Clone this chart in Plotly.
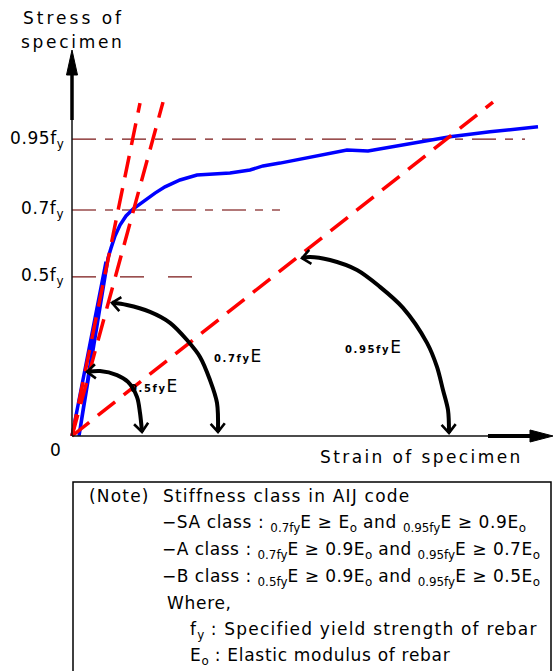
import math
import plotly.graph_objects as go

# ---------------- data (strain: arbitrary units, stress: units of fy) ----------------
curve_strain = [0, 0.32, 0.34, 0.07, 0.36, 0.39, 0.43, 0.48, 0.54, 0.61, 0.73, 0.83, 0.93,
                1.08, 1.25, 1.58, 1.78, 1.91, 2.08, 2.28, 2.53, 2.75, 2.96, 3.31, 3.78, 4.18, 4.66]
curve_stress = [0, 0.525, 0.557, 0, 0.569, 0.601, 0.640, 0.675, 0.704, 0.726, 0.755, 0.777, 0.797,
                0.819, 0.835, 0.841, 0.851, 0.864, 0.873, 0.886, 0.902, 0.915, 0.912, 0.931, 0.957, 0.973, 0.989]

# secant stiffness lines (0.5fyE, 0.7fyE, 0.95fyE), from origin to end point
secant_end_strain = [0.68, 0.91, 4.21]
secant_end_stress = [1.065, 1.068, 1.068]

# reference stress levels
level_stress = [0.509, 0.723, 0.95]
level_end_strain = [1.38, 2.08, 4.53]
level_labels = ["0.5f<sub>y</sub>", "0.7f<sub>y</sub>", "0.95f<sub>y</sub>"]
level_colors = ["#7a1616", "#b27878", "#7a1616"]
level_widths = [1.2, 2, 1.2]
level_dash = ["24px,24px", "24px,9px,8px,9px", "24px,9px,8px,9px"]

# angle arcs (strain, stress)
arc1_strain = [0.15, 0.28, 0.45, 0.56, 0.65, 0.68, 0.70]
arc1_stress = [0.205, 0.208, 0.195, 0.173, 0.125, 0.074, 0.013]
arc2_strain = [0.40, 0.55, 0.78, 0.98, 1.15, 1.28, 1.38, 1.45, 1.46]
arc2_stress = [0.426, 0.419, 0.397, 0.362, 0.307, 0.253, 0.179, 0.106, 0.013]
arc3_strain = [2.30, 2.38, 2.58, 2.85, 3.08, 3.31, 3.55, 3.65, 3.71, 3.76, 3.77]
arc3_stress = [0.569, 0.573, 0.563, 0.531, 0.477, 0.410, 0.298, 0.221, 0.147, 0.083, 0.010]
arc_labels = ["0.5fy", "0.7fy", "0.95fy"]

# ---------------- layout helpers (pixel -> axis units) ----------------
W, H = 554, 671
OX, OY = 72, 436          # origin in pixels
SX, SY = 100.0, 312.6     # pixels per unit
FONT = "DejaVu Sans"


def dx(px):
    return (px - OX) / SX


def dy(py):
    return (OY - py) / SY


def pxx(x):
    return OX + x * SX


def pxy(y):
    return OY - y * SY


def sub(t):
    return '<sub><span style="letter-spacing:0px">' + t + '</span></sub>'


fig = go.Figure()

# reference levels
for s, xe, c, w, d in zip(level_stress, level_end_strain, level_colors, level_widths, level_dash):
    fig.add_trace(go.Scatter(x=[0, xe], y=[s, s], mode="lines",
                             line=dict(color=c, width=w, dash=d), hoverinfo="skip"))

# blue stress-strain curve
fig.add_trace(go.Scatter(x=curve_strain, y=curve_stress, mode="lines",
                         line=dict(color="#0000ff", width=3.5), hoverinfo="skip"))

# red secant lines
for xe, ye in zip(secant_end_strain, secant_end_stress):
    fig.add_trace(go.Scatter(x=[0, xe], y=[0, ye], mode="lines",
                             line=dict(color="#ff0000", width=3.5, dash="22px,11px"),
                             hoverinfo="skip"))

# arcs
arcs = [(arc1_strain, arc1_stress), (arc2_strain, arc2_stress), (arc3_strain, arc3_stress)]
for ax_, ay_ in arcs:
    fig.add_trace(go.Scatter(x=ax_, y=ay_, mode="lines",
                             line=dict(color="black", width=4, shape="spline", smoothing=0.9),
                             hoverinfo="skip"))

# chevron arrowheads at both ends of each arc
ARM, ANG = 11.0, math.radians(40)
for ax_, ay_ in arcs:
    for i0, i1 in [(0, 1), (-1, -2)]:
        tx, ty = pxx(ax_[i0]), pxy(ay_[i0])
        sx_, sy_ = pxx(ax_[i1]), pxy(ay_[i1])
        L = math.hypot(sx_ - tx, sy_ - ty)
        ux, uy = (sx_ - tx) / L, (sy_ - ty) / L
        wings = []
        for a in (ANG, -ANG):
            wx = ux * math.cos(a) - uy * math.sin(a)
            wy = ux * math.sin(a) + uy * math.cos(a)
            wings.append((tx + wx * ARM, ty + wy * ARM))
        xs = [dx(wings[0][0]), dx(tx), dx(wings[1][0])]
        ys = [dy(wings[0][1]), dy(ty), dy(wings[1][1])]
        fig.add_trace(go.Scatter(x=xs, y=ys, mode="lines",
                                 line=dict(color="black", width=2.6), hoverinfo="skip"))

annotations = []

# arc labels
arc_label_pos = [(128, 386), (212, 356), (343, 347)]
for lab, (px_, py_) in zip(arc_labels, arc_label_pos):
    annotations.append(dict(
        x=dx(px_), y=dy(py_), xref="x", yref="y", xanchor="left", yanchor="middle",
        showarrow=False,
        text=('<b><span style="font-size:10px;letter-spacing:1.6px">' + lab +
              '</span></b><span style="font-size:17px">E</span>'),
        font=dict(family=FONT, color="black")))

# level tick labels
for s, lab in zip(level_stress, level_labels):
    annotations.append(dict(x=dx(66), y=s, xref="x", yref="y", xanchor="right",
                            yanchor="middle", showarrow=False,
                            text='<span style="letter-spacing:0.6px">' + lab + '</span>',
                            font=dict(family=FONT, size=17, color="black")))

# origin label
annotations.append(dict(x=dx(55), y=dy(450), xref="x", yref="y", showarrow=False,
                        text="0", font=dict(family=FONT, size=17, color="black")))

# axis titles
annotations.append(dict(x=dx(73), y=dy(18), xref="x", yref="y", showarrow=False,
                        xanchor="center", yanchor="middle",
                        text='<span style="letter-spacing:3px">Stress of</span>',
                        font=dict(family=FONT, size=17, color="black")))
annotations.append(dict(x=dx(73), y=dy(42), xref="x", yref="y", showarrow=False,
                        xanchor="center", yanchor="middle",
                        text='<span style="letter-spacing:2.7px">specimen</span>',
                        font=dict(family=FONT, size=17, color="black")))
annotations.append(dict(x=dx(318), y=dy(457), xref="x", yref="y", showarrow=False,
                        xanchor="left", yanchor="middle",
                        text='<span style="letter-spacing:2.4px">Strain of specimen</span>',
                        font=dict(family=FONT, size=17, color="black")))

# note box text: (text, x px, y px, letter spacing)
note_lines = [
    ("(Note)\u00a0\u00a0Stiffness class in AIJ code", 87, 496, 1.2),
    ("\u2212SA class : " + sub("0.7fy") + "E \u2265 E" + sub("o") + " and " + sub("0.95fy") +
     "E \u2265 0.9E" + sub("o"), 160, 523, 0.6),
    ("\u2212A class : " + sub("0.7fy") + "E \u2265 0.9E" + sub("o") + " and " + sub("0.95fy") +
     "E \u2265 0.7E" + sub("o"), 160, 550, 0.5),
    ("\u2212B class : " + sub("0.5fy") + "E \u2265 0.9E" + sub("o") + " and " + sub("0.95fy") +
     "E \u2265 0.5E" + sub("o"), 160, 577, 0.5),
    ("Where,", 165, 603, 0.7),
    ("f" + sub("y") + " : Specified yield strength of rebar", 188, 630, 1.2),
    ("E" + sub("o") + " : Elastic modulus of rebar", 188, 656, 0.7),
]
for txt, px_, py_, ls in note_lines:
    annotations.append(dict(x=px_ / W, y=1 - py_ / H, xref="paper", yref="paper",
                            xanchor="left", yanchor="middle", showarrow=False,
                            text='<span style="letter-spacing:%spx">' % ls + txt + '</span>',
                            font=dict(family=FONT, size=17, color="black")))

shapes = [
    # y axis
    dict(type="line", x0=0, y0=0, x1=0, y1=dy(118), line=dict(color="#111", width=1.5)),
    dict(type="line", x0=0, y0=dy(120), x1=0, y1=dy(72), line=dict(color="black", width=3.5)),
    dict(type="path", path=f"M {dx(66.5)},{dy(75)} L {dx(72)},{dy(50)} L {dx(77.5)},{dy(75)} Z",
         fillcolor="black", line=dict(color="black", width=1)),
    # x axis
    dict(type="line", x0=0, y0=0, x1=dx(490), y1=0, line=dict(color="#111", width=1.5)),
    dict(type="line", x0=dx(488), y0=0, x1=dx(532), y1=0, line=dict(color="black", width=4)),
    dict(type="path", path=f"M {dx(530)},{dy(430)} L {dx(553)},{dy(436)} L {dx(530)},{dy(442)} Z",
         fillcolor="black", line=dict(color="black", width=1)),
    # note box
    dict(type="rect", xref="paper", yref="paper", x0=73 / W, x1=551 / W,
         y0=1 - 680 / H, y1=1 - 482 / H, line=dict(color="black", width=1.5)),
]

fig.update_layout(
    width=W, height=H, margin=dict(l=0, r=0, t=0, b=0),
    paper_bgcolor="white", plot_bgcolor="white", showlegend=False,
    xaxis=dict(range=[dx(0), dx(W)], visible=False, fixedrange=True),
    yaxis=dict(range=[dy(H), dy(0)], visible=False, fixedrange=True),
    annotations=annotations, shapes=shapes,
)

fig.write_html("out.html")
